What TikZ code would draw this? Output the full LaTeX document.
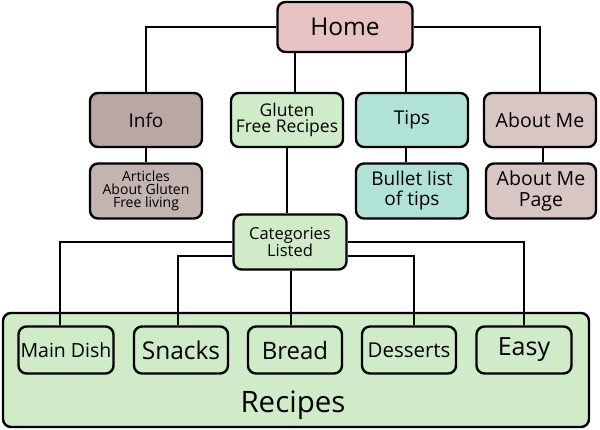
\documentclass[tikz,border=0pt]{standalone}
\usepackage{fontspec}
\setmainfont{Open Sans}
\usetikzlibrary{positioning}
\definecolor{homepink}{HTML}{E8C3C3}
\definecolor{infobrown}{HTML}{B8A7A3}
\definecolor{aboutgray}{HTML}{D7C6C4}
\definecolor{tipsteal}{HTML}{B0E2D5}
\definecolor{recgreen}{HTML}{D0EBC8}
\newcommand{\fs}[1]{\fontsize{#1}{#1}\selectfont}
\tikzset{
  box/.style={draw, line width=2.4pt, rounded corners=8pt, align=center,
    inner sep=0pt, minimum width=112pt, minimum height=54pt},
  catbox/.style={box, fill=recgreen, minimum width=94pt, minimum height=47pt},
  link/.style={line width=2.2pt}
}
\begin{document}
\begin{tikzpicture}[x=1pt, y=-1pt]
            \useasboundingbox (0,0) rectangle (600,429);

            \node [box, fill=homepink, minimum width=135pt, minimum height=50pt, font=\fs{24.5}] (Home) at (345, 27) {Home};
            \node [box, fill=infobrown, font=\fs{19}] (Info) at (146, 120) {Info};
            \node [box, fill=recgreen, font=\fs{17.5}] (Gluten) at (287, 120) {Gluten\\[-1pt]Free Recipes};
            \node [box, fill=tipsteal, font=\fs{19}] (Tips) at (412, 120) {Tips};
            \node [box, fill=aboutgray, font=\fs{19.5}] (About) at (540, 120) {About Me};

            \node [box, fill=infobrown!85!white, minimum height=55pt, font=\fs{14}] (Articles) at (146, 191) {Articles\\[-1pt]About Gluten\\[-1pt]Free living};
            \node [box, fill=tipsteal, minimum height=55pt, font=\fs{19}] (Bullets) at (412, 191) {Bullet list\\[1pt]of tips};
            \node [box, fill=aboutgray, minimum width=110pt, minimum height=55pt, font=\fs{19.5}] (AboutPage) at (541, 191) {About Me\\[1pt]Page};

            \node [box, fill=recgreen, minimum width=113pt, minimum height=55pt, font=\fs{16.5}] (Categories) at (290, 242) {Categories\\Listed};

            \node [box, fill=recgreen, minimum width=586pt, minimum height=114pt] (Recipes) at (296, 370) {};
            \node [font=\fs{29.5}] (RecipesText) at (293, 405) {Recipes};

            \node [catbox, minimum width=95pt, font=\fs{19.5}] (MainDish) at (66, 350) {Main Dish};
            \node [catbox, font=\fs{24.5}] (Snacks) at (181, 350) {Snacks};
            \node [catbox, font=\fs{24}] (Bread) at (295, 350) {Bread};
            \node [catbox, font=\fs{20.5}] (Desserts) at (409, 350) {Desserts};
            \node [catbox, minimum width=95pt, font=\fs{25}] (Easy) at (524, 350) {Easy};

            \draw [link] (Home.west) -| (Info.north);
            \draw [link] (Home.east) -| (About.north);
            \draw [link] ([xshift=8pt]Gluten.north) -- ([xshift=8pt]Gluten.north |- Home.south);
            \draw [link] ([xshift=-6pt]Tips.north) -- ([xshift=-6pt]Tips.north |- Home.south);

            \draw [link] (Info) -- (Articles);
            \draw [link] ([xshift=-6pt]Tips.south) -- ([xshift=-6pt]Bullets.north);
            \draw [link] ([xshift=3pt]About.south) -- ([xshift=2pt]AboutPage.north);
            \draw [link] (Gluten.south) -- (Gluten.south |- Categories.north);

            \draw [link] (Categories.west) -| ([xshift=-6pt]MainDish.north);
            \draw [link] ([yshift=-14pt]Categories.west) -| ([xshift=-3pt]Snacks.north);
            \draw [link] ([xshift=-4pt]Bread.north |- Categories.south) -- ([xshift=-4pt]Bread.north);
            \draw [link] ([yshift=-14pt]Categories.east) -| ([xshift=5pt]Desserts.north);
            \draw [link] (Categories.east) -| (Easy.north);
        \end{tikzpicture}
\end{document}
